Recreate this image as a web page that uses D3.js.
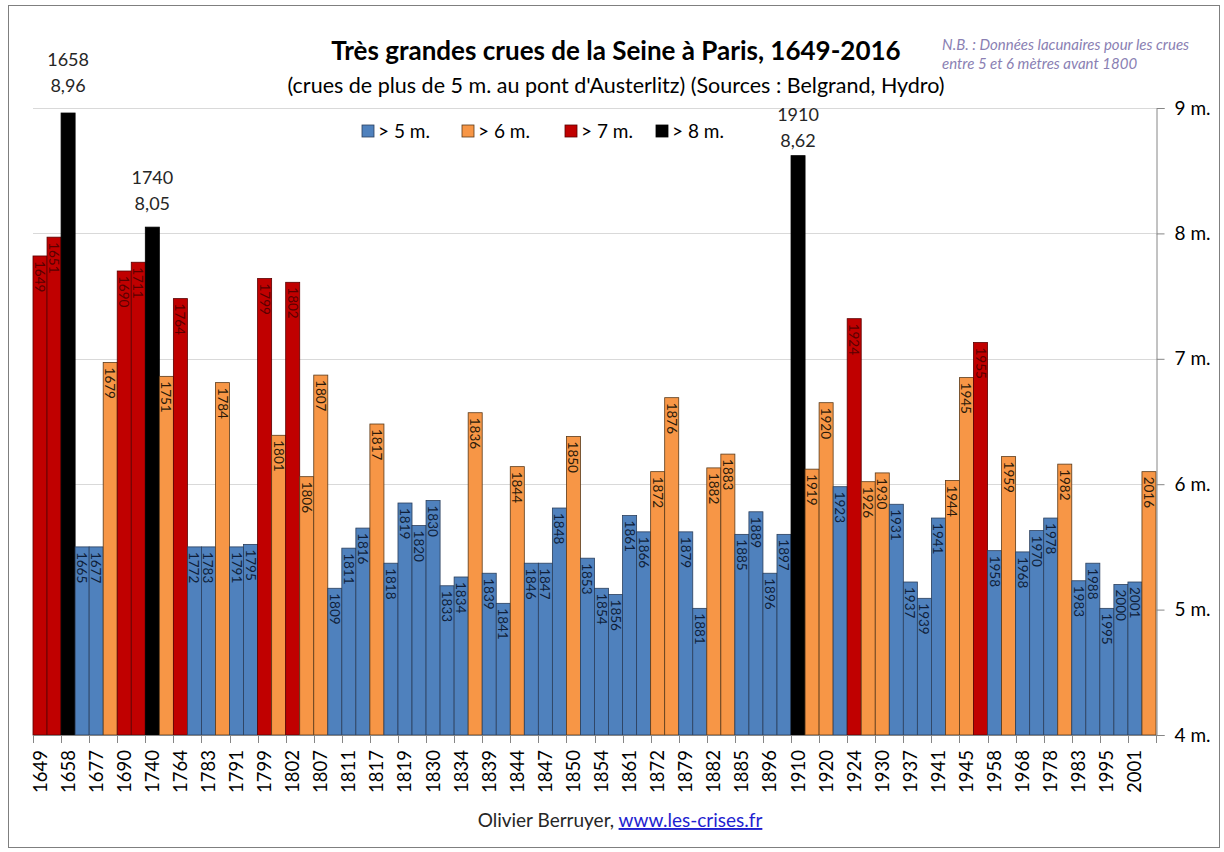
<!DOCTYPE html>
<html>
<head>
<meta charset="utf-8">
<script src="https://cdn.jsdelivr.net/npm/d3@7"></script>
<style>
  html, body { margin: 0; padding: 0; background: #fff; }
  svg { display: block; font-family: Lato, "Open Sans", sans-serif; }
</style>
</head>
<body>
<svg id="chart" width="1224" height="852"></svg>
<script>
// Flood years (one bar per flood)
const years = [
  "1649","1651","1658","1665","1677","1679","1690","1711","1740","1751",
  "1764","1772","1783","1784","1791","1795","1799","1801","1802","1806",
  "1807","1809","1811","1816","1817","1818","1819","1820","1830","1833",
  "1834","1836","1839","1841","1844","1846","1847","1848","1850","1853",
  "1854","1856","1861","1866","1872","1876","1879","1881","1882","1883",
  "1885","1889","1896","1897","1910","1919","1920","1923","1924","1926",
  "1930","1931","1937","1939","1941","1944","1945","1955","1958","1959",
  "1968","1970","1978","1982","1983","1988","1995","2000","2001","2016"
];

// Peak height at the Austerlitz bridge, in metres
const heights = [
  7.82, 7.97, 8.96, 5.50, 5.50, 6.97, 7.70, 7.77, 8.05, 6.86,
  7.48, 5.50, 5.50, 6.81, 5.50, 5.52, 7.64, 6.39, 7.61, 6.06,
  6.87, 5.17, 5.49, 5.65, 6.48, 5.37, 5.85, 5.67, 5.87, 5.19,
  5.26, 6.57, 5.29, 5.05, 6.14, 5.37, 5.37, 5.81, 6.38, 5.41,
  5.17, 5.12, 5.75, 5.62, 6.10, 6.69, 5.62, 5.01, 6.13, 6.24,
  5.60, 5.78, 5.29, 5.60, 8.62, 6.12, 6.65, 5.98, 7.32, 6.02,
  6.09, 5.84, 5.22, 5.09, 5.73, 6.03, 6.85, 7.13, 5.47, 6.22,
  5.46, 5.63, 5.73, 6.16, 5.23, 5.37, 5.01, 5.20, 5.22, 6.10
];

// Height classes used for colouring and the legend
const classLabels = ["> 5 m.", "> 6 m.", "> 7 m.", "> 8 m."];
const classThresholds = [6, 7, 8];
const classColors = ["#4f81bd", "#f79646", "#c00000", "#000000"];
const classStrokes = ["#2b3f5c", "#5a3a1a", "#5a0000", "#000000"];

// Right-hand axis ticks
const yTicks = [4, 5, 6, 7, 8, 9];
const yTickLabels = ["4 m.", "5 m.", "6 m.", "7 m.", "8 m.", "9 m."];

// Record floods annotated with year and height, with the extra drop of each label
const highlighted = ["1658", "1740", "1910"];
const highlightDrop = [0, 4, 12];

const data = years.map((y, i) => ({ year: y, h: heights[i] }));
const classOf = h => d3.bisectRight(classThresholds, h);

const svg = d3.select("#chart");
const plot = { left: 33, right: 1156, top: 108, bottom: 735 };

// Outer frame
svg.append("rect")
  .attr("x", 8.5).attr("y", 5.5)
  .attr("width", 1211).attr("height", 842)
  .attr("fill", "#fff").attr("stroke", "#7f7f7f").attr("stroke-width", 1);

const x = d3.scaleBand()
  .domain(years)
  .range([plot.left, plot.right])
  .paddingInner(0).paddingOuter(0);

const y = d3.scaleLinear()
  .domain([4, 9])
  .range([plot.bottom, plot.top]);

// Horizontal gridlines
svg.append("g")
  .selectAll("line")
  .data(yTicks.filter(t => t > 4))
  .join("line")
  .attr("x1", plot.left).attr("x2", plot.right)
  .attr("y1", d => Math.round(y(d)) + 0.5)
  .attr("y2", d => Math.round(y(d)) + 0.5)
  .attr("stroke", "#d9d9d9").attr("stroke-width", 1);

// Bars
svg.append("g")
  .selectAll("rect")
  .data(data)
  .join("rect")
  .attr("x", d => x(d.year))
  .attr("width", x.bandwidth())
  .attr("y", d => y(d.h))
  .attr("height", d => y(4) - y(d.h))
  .attr("fill", d => classColors[classOf(d.h)])
  .attr("stroke", d => classStrokes[classOf(d.h)])
  .attr("stroke-width", 0.8);

// Year labels inside bars (not for the black record bars)
svg.append("g")
  .selectAll("text")
  .data(data.filter(d => classOf(d.h) < 3))
  .join("text")
  .attr("transform", d => `translate(${x(d.year) + x.bandwidth() / 2 - 5},${y(d.h) + 5}) rotate(90)`)
  .attr("font-size", 13.5)
  .attr("fill", d => classOf(d.h) === 0 ? "#0f1f3a" : (classOf(d.h) === 2 ? "#5a0000" : "#2a1a0a"))
  .text(d => d.year);

// Record annotations above the black bars
const ann = svg.append("g")
  .selectAll("g")
  .data(data.filter(d => highlighted.includes(d.year)))
  .join("g")
  .attr("transform", d => `translate(${x(d.year) + x.bandwidth() / 2},${y(d.h) + highlightDrop[highlighted.indexOf(d.year)]})`);
ann.append("text")
  .attr("y", -47).attr("text-anchor", "middle")
  .attr("font-size", 18).attr("fill", "#262626")
  .text(d => d.year);
ann.append("text")
  .attr("y", -21).attr("text-anchor", "middle")
  .attr("font-size", 18).attr("fill", "#262626")
  .text(d => d.h.toFixed(2).replace(".", ","));

// Right value axis
const yAxis = d3.axisRight(y)
  .tickValues(yTicks)
  .tickSize(8)
  .tickPadding(10)
  .tickFormat((d, i) => yTickLabels[i]);
const gy = svg.append("g")
  .attr("transform", `translate(${plot.right + 0.5},0)`)
  .call(yAxis);
gy.select(".domain").attr("stroke", "#868686");
gy.selectAll(".tick line").attr("stroke", "#868686");
gy.selectAll(".tick text")
  .attr("font-size", 19).attr("fill", "#000")
  .attr("font-family", "Lato, sans-serif");

// Bottom category axis: ticks and labels on every other flood
const xAxisLine = svg.append("g");
xAxisLine.append("line")
  .attr("x1", plot.left).attr("x2", plot.right)
  .attr("y1", plot.bottom + 0.5).attr("y2", plot.bottom + 0.5)
  .attr("stroke", "#868686");
xAxisLine.selectAll("line.tk")
  .data(years.filter((d, i) => i % 2 === 0).concat(["end"]))
  .join("line")
  .attr("class", "tk")
  .attr("x1", d => Math.round(d === "end" ? plot.right : x(d)) + 0.5)
  .attr("x2", d => Math.round(d === "end" ? plot.right : x(d)) + 0.5)
  .attr("y1", plot.bottom).attr("y2", plot.bottom + 8)
  .attr("stroke", "#868686");
xAxisLine.selectAll("text")
  .data(years.filter((d, i) => i % 2 === 0))
  .join("text")
  .attr("transform", d => `translate(${x(d) + x.bandwidth() / 2 + 6.5},${plot.bottom + 15}) rotate(-90)`)
  .attr("text-anchor", "end")
  .attr("font-size", 18.5).attr("fill", "#000")
  .text(d => d);

// Titles
svg.append("text")
  .attr("x", 616).attr("y", 60)
  .attr("text-anchor", "middle")
  .attr("font-size", 26).attr("font-weight", "bold").attr("fill", "#000")
  .text("Très grandes crues de la Seine à Paris, 1649-2016");
svg.append("text")
  .attr("x", 616).attr("y", 93)
  .attr("text-anchor", "middle")
  .attr("font-size", 21.5).attr("fill", "#000")
  .text("(crues de plus de 5 m. au pont d'Austerlitz) (Sources : Belgrand, Hydro)");

// Note on data gaps
const nb = svg.append("g").attr("font-size", 15).attr("font-style", "italic").attr("fill", "#8a7fb3");
nb.append("text").attr("x", 942).attr("y", 50).text("N.B. : Données lacunaires pour les crues");
nb.append("text").attr("x", 942).attr("y", 69).text("entre 5 et 6 mètres avant 1800");

// Legend
const legendX = [362, 462, 565, 656];
const lg = svg.append("g")
  .selectAll("g")
  .data(classLabels)
  .join("g")
  .attr("transform", (d, i) => `translate(${legendX[i]},131)`);
lg.append("rect")
  .attr("x", 0).attr("y", -6).attr("width", 12).attr("height", 12)
  .attr("fill", (d, i) => classColors[i])
  .attr("stroke", (d, i) => classStrokes[i]).attr("stroke-width", 0.8);
lg.append("text")
  .attr("x", 16).attr("y", 7)
  .attr("font-size", 19).attr("fill", "#000")
  .text(d => d);

// Credit line
const credit = svg.append("text")
  .attr("x", 620).attr("y", 827)
  .attr("text-anchor", "middle")
  .attr("font-size", 19).attr("fill", "#262626");
credit.append("tspan").text("Olivier Berruyer, ");
credit.append("tspan")
  .attr("fill", "#1f1fd0")
  .attr("text-decoration", "underline")
  .text("www.les-crises.fr");
</script>
</body>
</html>
